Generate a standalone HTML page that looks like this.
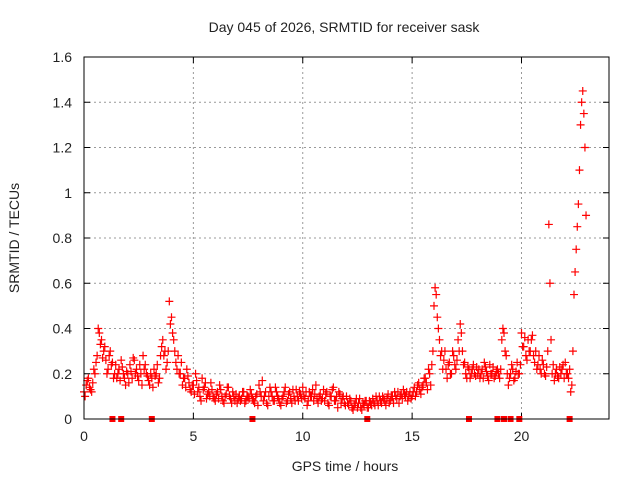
<!DOCTYPE html>
<html><head><meta charset="utf-8"><style>
body{margin:0;background:#fff;font-family:"Liberation Sans",sans-serif}
svg text{font-family:"Liberation Sans",sans-serif;font-size:14px;fill:#222}
</style></head><body>
<svg id="c" width="640" height="480">
<rect width="640" height="480" fill="#fff"/>
<text x="344" y="32" text-anchor="middle">Day 045 of 2026, SRMTID for receiver sask</text>
<text x="345" y="471" text-anchor="middle">GPS time / hours</text>
<text transform="translate(19,238) rotate(-90)" text-anchor="middle">SRMTID / TECUs</text>
<g id="grid"></g><g id="ticks"></g><g id="marks"></g>
<rect x="84" y="57" width="525" height="362" fill="none" stroke="#000" stroke-width="1"/>
</svg>
<script>
const xTicks=[0,5,10,15,20];
const yTicks=[0,0.2,0.4,0.6,0.8,1,1.2,1.4,1.6];
const yTickLabels=["0","0.2","0.4","0.6","0.8","1","1.2","1.4","1.6"];
const tStart=0, tStep=0.1;
const seriesA=[.12,.15,.18,.13,.16,.2,.28,.38,.35,.3,
.26,.22,.3,.25,.2,.18,.22,.26,.2,.15,
.2,.24,.18,.26,.22,.17,.2,.28,.24,.19,
.15,.18,.22,.2,.16,.28,.35,.3,.25,.52,
.45,.35,.25,.28,.2,.15,.18,.22,.16,.12,
.15,.2,.12,.1,.18,.14,.09,.12,.16,.1,
.08,.12,.15,.1,.07,.11,.14,.09,.12,.08,
.07,.1,.09,.12,.08,.1,.13,.09,.07,.11,
.15,.1,.08,.12,.06,.14,.1,.08,.12,.09,
.06,.1,.14,.08,.12,.07,.1,.13,.08,.11,
.14,.09,.06,.12,.1,.08,.15,.07,.11,.09,
.08,.12,.06,.1,.14,.08,.05,.11,.09,.07,
.1,.06,.08,.04,.07,.05,.09,.04,.06,.08,
.05,.07,.09,.06,.08,.1,.07,.09,.06,.11,
.08,.1,.12,.09,.07,.11,.13,.1,.08,.12,
.1,.14,.12,.16,.11,.15,.18,.13,.2,.24,
.5,.55,.4,.28,.22,.3,.18,.25,.2,.28,
.22,.35,.42,.3,.25,.18,.22,.2,.24,.19,
.2,.18,.22,.25,.21,.17,.2,.23,.19,.22,
.18,.35,.38,.28,.15,.2,.22,.18,.25,.2,
.38,.32,.28,.35,.3,.37,.25,.22,.28,.2,
.24,.19,.3,.6,.2,.17,.22,.18,.2,.24,
.25,.2,.22,.15,.55,.75,.95,1.3,1.45,1.2];
const seriesB=[.1,.17,.14,.12,.22,.25,.4,.33,.27,.32,
.2,.28,.24,.18,.24,.2,.17,.23,.18,.21,
.16,.21,.27,.2,.19,.24,.15,.22,.2,.17,
.2,.14,.19,.24,.18,.32,.28,.22,.3,.42,
.38,.3,.22,.2,.25,.18,.14,.19,.13,.15,
.11,.17,.14,.08,.13,.16,.11,.1,.13,.09,
.11,.09,.13,.08,.1,.14,.1,.07,.1,.11,
.09,.08,.12,.07,.1,.09,.11,.08,.1,.06,
.12,.17,.1,.07,.1,.12,.08,.14,.1,.07,
.09,.12,.07,.11,.09,.13,.08,.1,.12,.09,
.1,.12,.08,.1,.13,.11,.09,.1,.08,.13,
.11,.07,.1,.13,.08,.1,.12,.07,.1,.06,
.07,.09,.05,.06,.09,.07,.05,.07,.08,.05,
.08,.06,.07,.1,.06,.08,.1,.08,.09,.07,
.1,.07,.1,.12,.1,.09,.11,.12,.1,.09,
.12,.1,.15,.13,.14,.18,.16,.22,.15,.3,
.58,.45,.35,.3,.26,.22,.24,.2,.3,.24,
.26,.3,.38,.24,.2,.23,.18,.22,.2,.23,
.22,.2,.18,.23,.19,.24,.2,.18,.21,.2,
.22,.4,.3,.2,.18,.24,.17,.21,.2,.24,
.32,.36,.26,.3,.35,.28,.3,.24,.22,.26,
.2,.23,.86,.35,.24,.2,.19,.23,.22,.18,
.2,.18,.12,.3,.65,.85,1.1,1.4,1.35,.9];
const zeroTimes=[1.3,1.7,3.1,7.7,12.95,17.6,18.9,19.2,19.5,19.9,22.2];
const NS='http://www.w3.org/2000/svg';
const X0=84,X1=609,Y0=419,Y1=57,XMAX=24,YMAX=1.6;
function sx(t){return X0+(X1-X0)*t/XMAX}
function sy(v){return Y0-(Y0-Y1)*v/YMAX}
function mk(tag,attrs,parent){const e=document.createElementNS(NS,tag);for(const k in attrs)e.setAttribute(k,attrs[k]);parent.appendChild(e);return e}
const grid=document.getElementById('grid'),ticks=document.getElementById('ticks'),marks=document.getElementById('marks');
xTicks.forEach(v=>{const x=sx(v);
 if(v>0){const g=mk('line',{x1:x,x2:x,y1:Y1,y2:Y0,stroke:'#999','stroke-dasharray':'2,3'},grid);
 
 }
 mk('line',{x1:x,x2:x,y1:Y0,y2:Y0-6,stroke:'#000'},ticks);
 mk('line',{x1:x,x2:x,y1:Y1,y2:Y1+6,stroke:'#000'},ticks);
 const t=mk('text',{x:x,y:Y0+22,'text-anchor':'middle'},ticks);t.textContent=v;
 
 
});
yTicks.forEach((v,i)=>{const y=sy(v);
 if(v>0&&v<YMAX){const g=mk('line',{x1:X0,x2:X1,y1:y,y2:y,stroke:'#999','stroke-dasharray':'2,3'},grid);
 
 }
 mk('line',{x1:X0,x2:X0+6,y1:y,y2:y,stroke:'#000'},ticks);
 mk('line',{x1:X1,x2:X1-6,y1:y,y2:y,stroke:'#000'},ticks);
 const t=mk('text',{x:X0-12,y:y+5,'text-anchor':'end'},ticks);t.textContent=yTickLabels[i];
 
 
});
function plus(t,v){const x=sx(t),y=sy(v);
 const p=mk('path',{d:`M${x-4},${y}H${x+4}M${x},${y-4}V${y+4}`,stroke:'#f00','stroke-width':1.2,fill:'none'},marks);
 
 
}
seriesA.forEach((v,i)=>plus(tStart+i*tStep,v));
seriesB.forEach((v,i)=>plus(tStart+i*tStep+tStep/2,v));
zeroTimes.forEach(t=>{const r=mk('rect',{x:sx(t)-3,y:Y0-3,width:6,height:6,fill:'#f00'},marks);
 
 
});
</script>
</body></html>
